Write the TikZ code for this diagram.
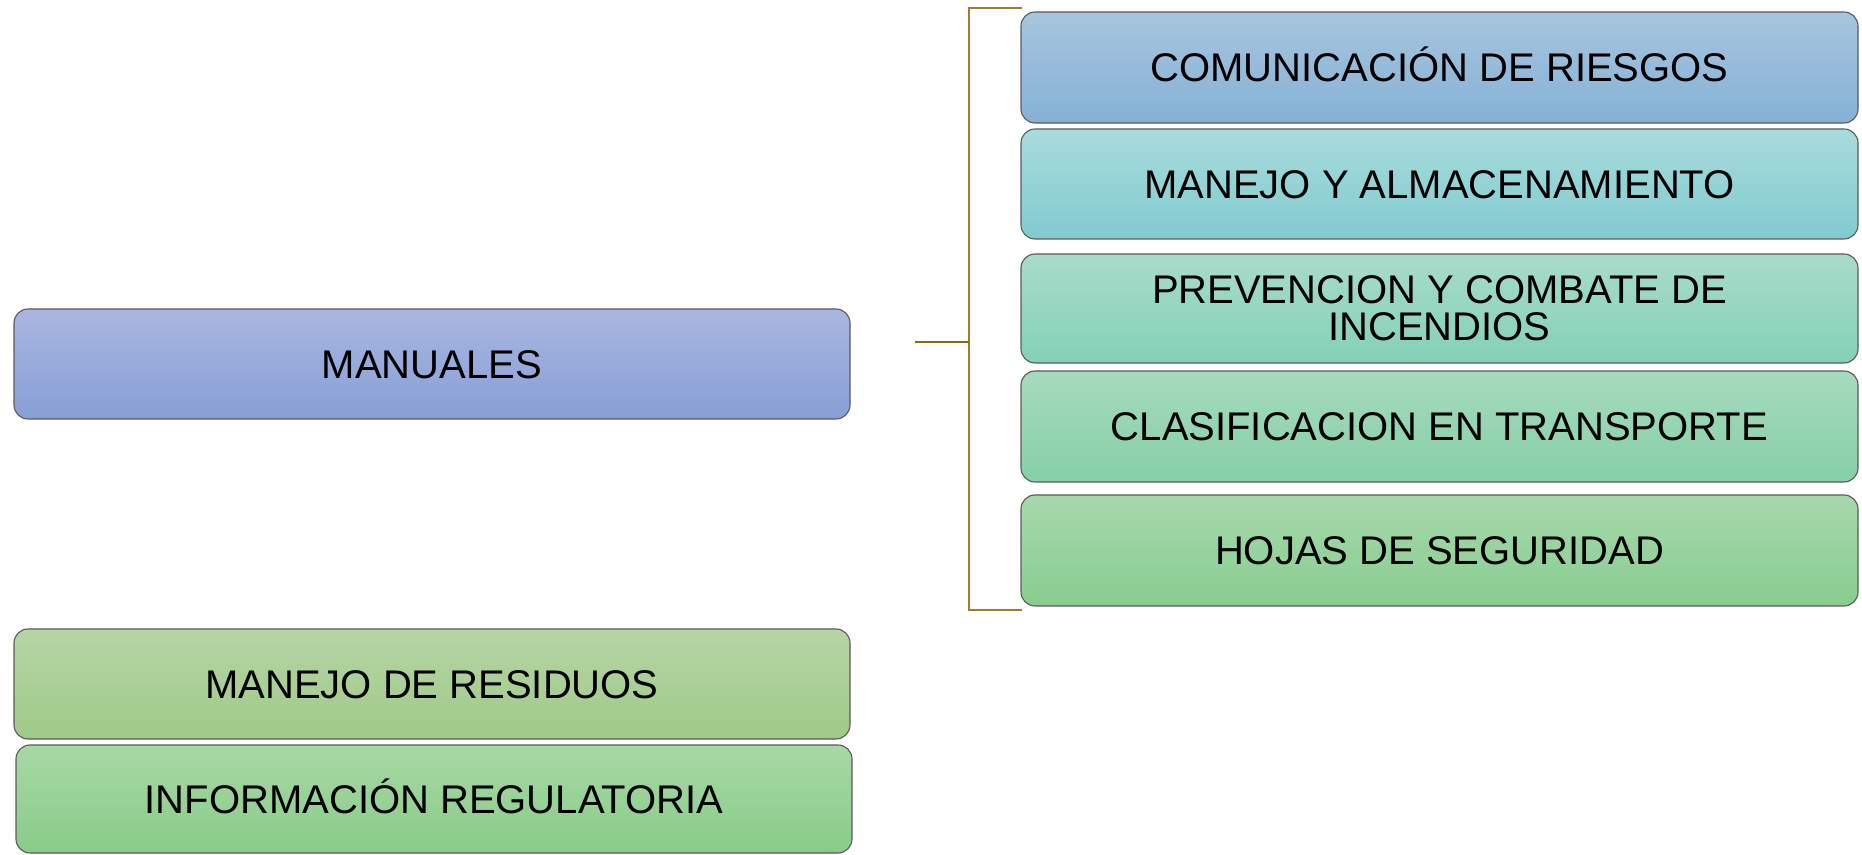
\documentclass[tikz,border=0pt]{standalone}
\usepackage{fontspec}
\setmainfont{Liberation Sans}
\definecolor{boxline}{HTML}{5A5A5A}
\definecolor{brk}{HTML}{9C7E2E}
\definecolor{brkmid}{HTML}{8B6B10}
\definecolor{c1t}{HTML}{A7C5DE}\definecolor{c1b}{HTML}{85B1D6}
\definecolor{c2t}{HTML}{A9DBDB}\definecolor{c2b}{HTML}{80CBD0}
\definecolor{c3t}{HTML}{A8DCCA}\definecolor{c3b}{HTML}{84D0B7}
\definecolor{c4t}{HTML}{A6DABF}\definecolor{c4b}{HTML}{86CFA6}
\definecolor{c5t}{HTML}{A7D8AC}\definecolor{c5b}{HTML}{88CD90}
\definecolor{mt}{HTML}{A9B6E0}\definecolor{mb}{HTML}{879FD6}
\definecolor{rt}{HTML}{B6D5A6}\definecolor{rb}{HTML}{9FCA87}
\definecolor{it}{HTML}{A8D8A5}\definecolor{ib}{HTML}{88CC88}
\begin{document}
\begin{tikzpicture}[x=1pt,y=1pt,
  boxbase/.style={draw=boxline, line width=1.1pt, rounded corners=14pt,
    minimum width=837pt, inner sep=0pt, align=center,
    font=\fontsize{40}{37}\selectfont, text=black},
  box/.style={boxbase, text height=29pt, text depth=0pt},
  brkline/.style={draw=brk, line width=2pt}]
\useasboundingbox (0,0) rectangle (1862,854);
% right boxes
\node[box, top color=c1t, bottom color=c1b, minimum height=111pt] (b1) at (1439.5,786.5) {COMUNICACIÓN DE RIESGOS};
\node[box, top color=c2t, bottom color=c2b, minimum height=110pt] (b2) at (1439.5,670) {MANEJO Y ALMACENAMIENTO};
\node[boxbase, top color=c3t, bottom color=c3b, minimum height=109pt] (b3) at (1439.5,545.5) {PREVENCION Y COMBATE DE\\INCENDIOS};
\node[box, top color=c4t, bottom color=c4b, minimum height=111pt] (b4) at (1439.5,427.5) {CLASIFICACION EN TRANSPORTE};
\node[box, top color=c5t, bottom color=c5b, minimum height=111pt] (b5) at (1439.5,303.5) {HOJAS DE SEGURIDAD};
% left boxes
\node[box, top color=mt, bottom color=mb, minimum height=110pt, minimum width=836pt] (man) at (432,490) {MANUALES};
\node[box, top color=rt, bottom color=rb, minimum height=110pt, minimum width=836pt] (res) at (432,170) {MANEJO DE RESIDUOS};
\node[box, top color=it, bottom color=ib, minimum height=108pt, minimum width=836pt] (inf) at (434,55) {INFORMACIÓN REGULATORIA};
% bracket
\coordinate (tt) at (1022,846);
\coordinate (tc) at (969,846);
\coordinate (bc) at (969,244);
\coordinate (bb) at (1022,244);
\coordinate (mc) at (969,512);
\coordinate (ml) at (915,512);
\draw[brkline] (tt) -- (tc) -- (bc) -- (bb);
\draw[draw=brkmid, line width=2pt] (ml) -- (mc);
\end{tikzpicture}
\end{document}
